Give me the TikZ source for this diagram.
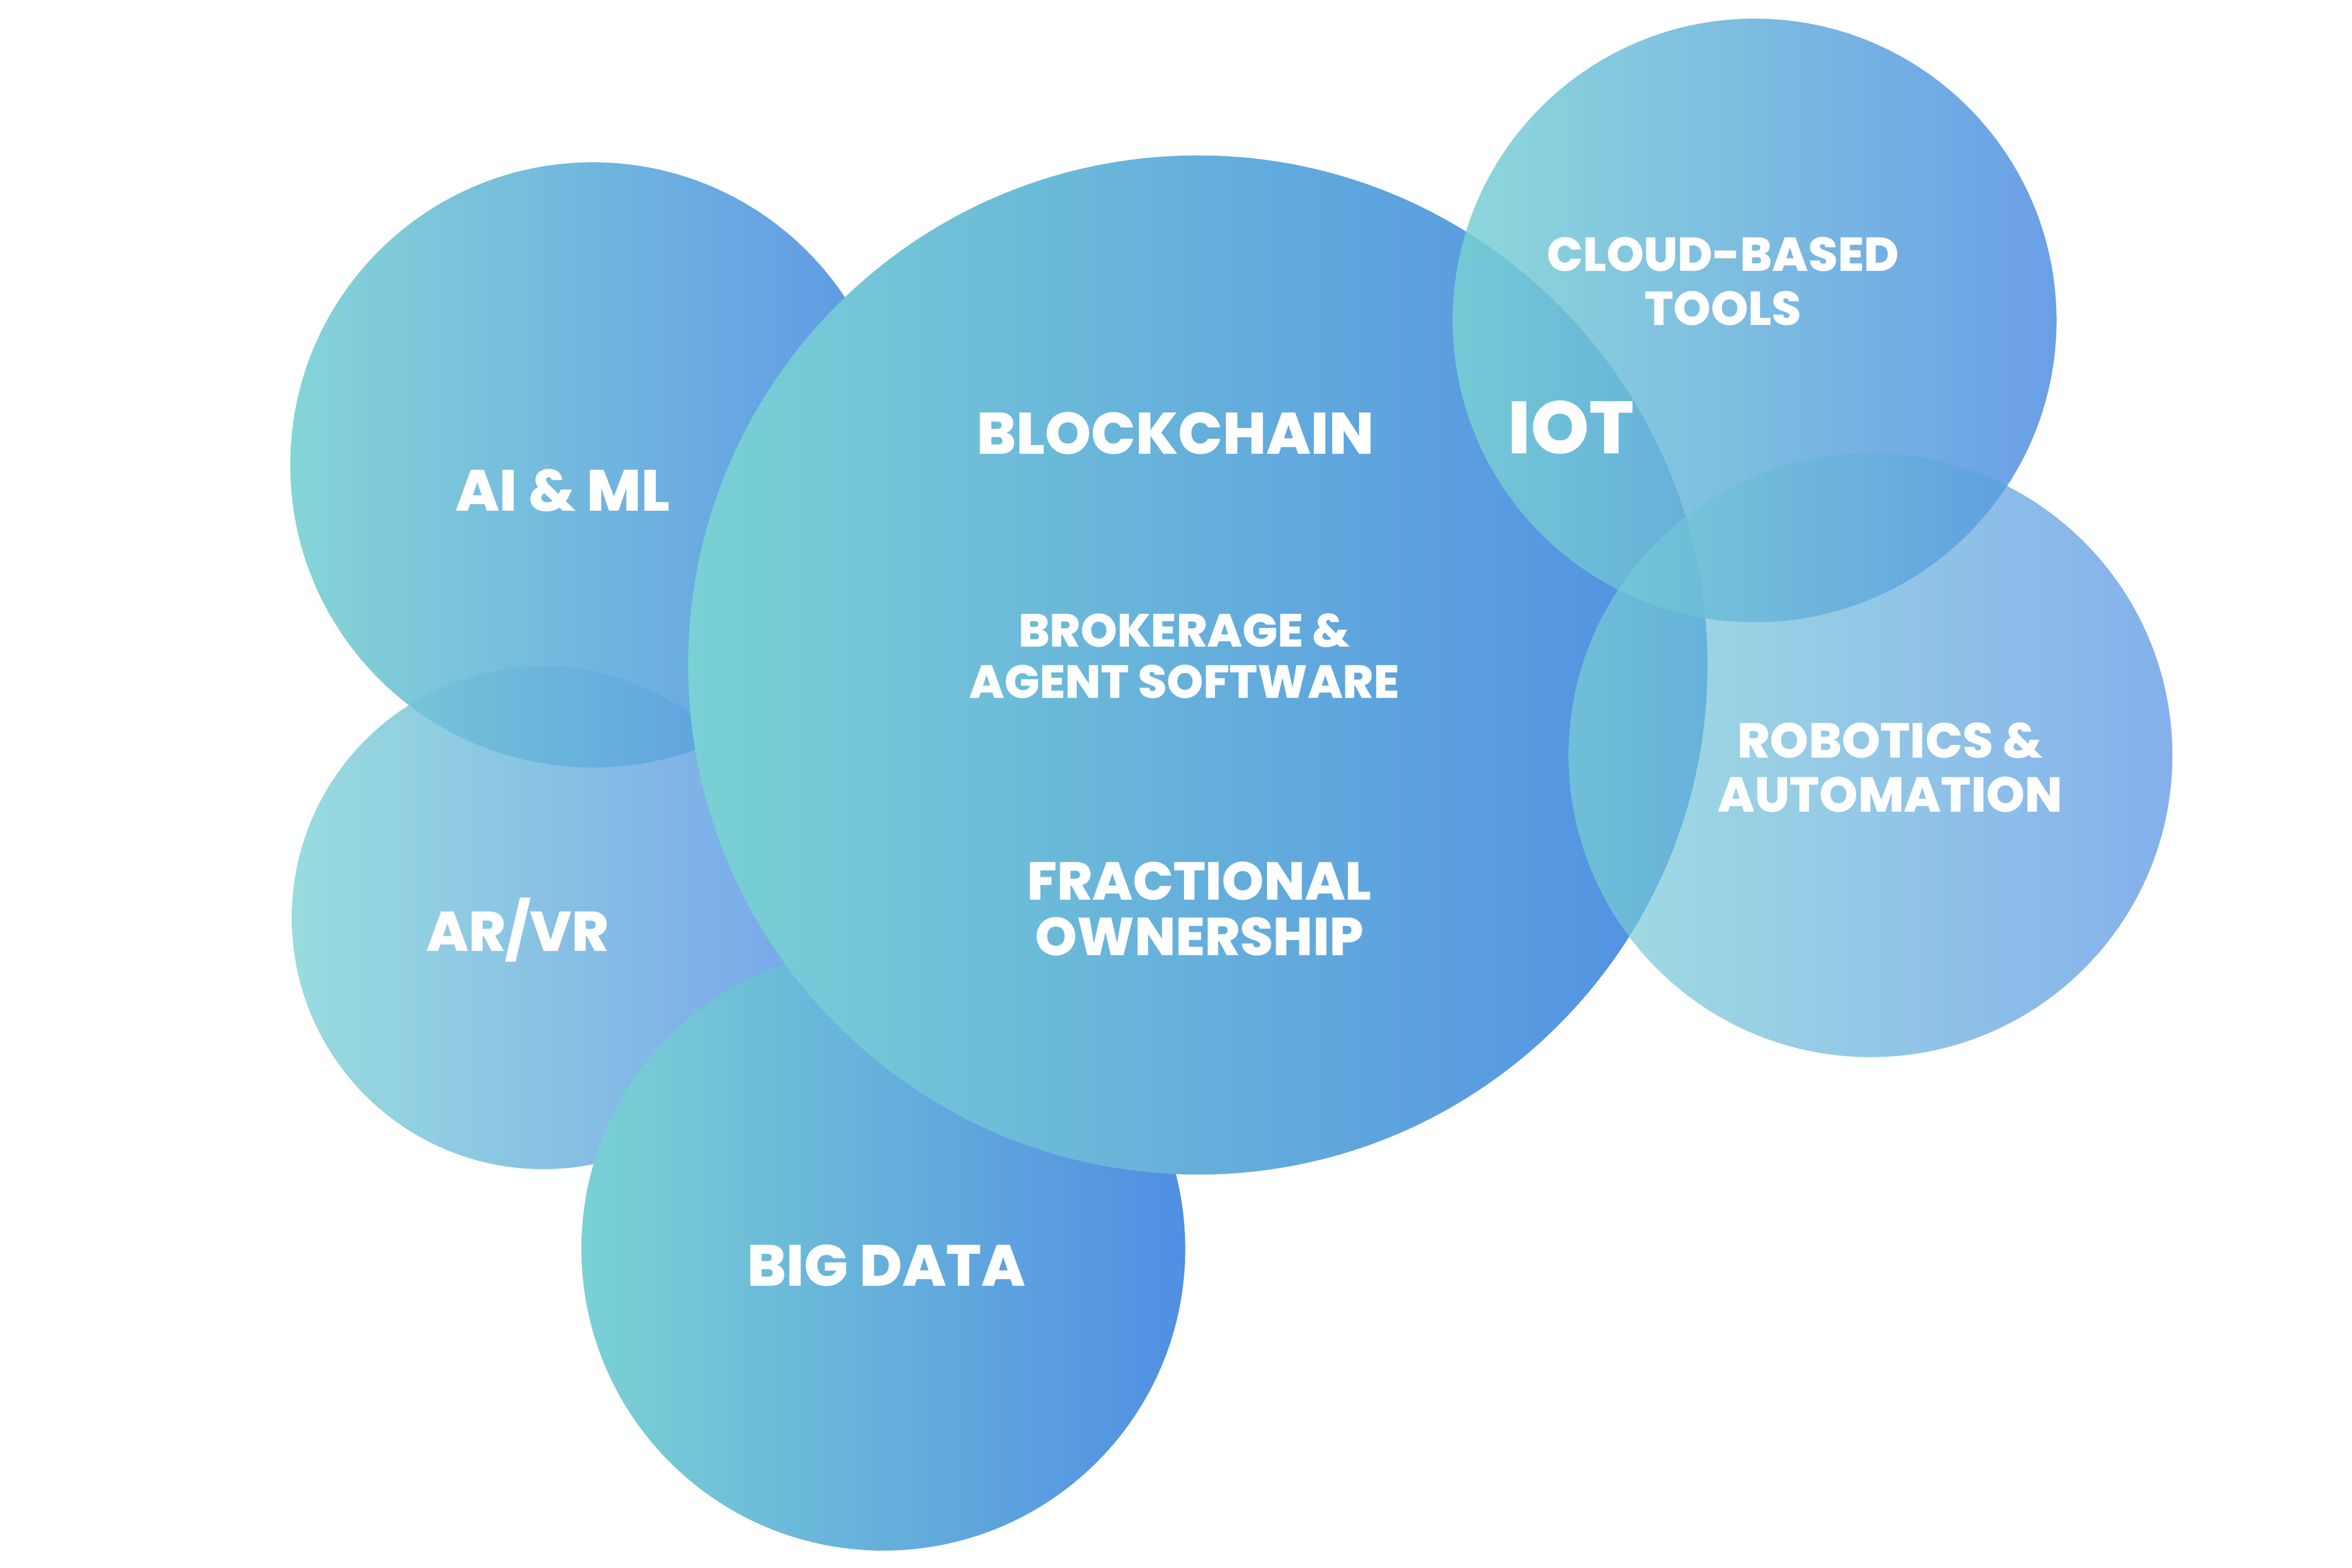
\documentclass[tikz,border=0pt]{standalone}
\usepackage{fontspec}
\newfontfamily\pop{Poppins ExtraBold}
\definecolor{tealc}{HTML}{7AD1D4}
\definecolor{bluec}{HTML}{508EE3}
\tikzset{
  bubble/.style={circle, draw=none, inner sep=0pt, outer sep=0pt, left color=tealc, right color=bluec},
  lbl/.style={text=white, align=center, inner sep=0pt, font=\pop}
}
\begin{document}
\begin{tikzpicture}[x=0.01cm, y=-0.01cm]
\useasboundingbox (0,0) rectangle (1563,1042);
% circles
\node[bubble, minimum size=3.34cm, fill opacity=0.77] (arvr) at (361,610) {};
\node[bubble, minimum size=4.02cm, fill opacity=0.92] (aiml) at (394,309) {};
\node[bubble, minimum size=4.01cm] (bigdata) at (587,830) {};
\node[bubble, minimum size=6.77cm] (main) at (796,442) {};
\node[bubble, minimum size=4.01cm, fill opacity=0.85] (cloud) at (1166,213) {};
\node[bubble, minimum size=4.01cm, fill opacity=0.7] (robot) at (1243,502) {};
% labels
\node[lbl, font=\pop\fontsize{11}{13}\selectfont] (taiml) at (374,326) {AI \& ML};
\node[lbl, font=\pop\fontsize{11.1}{13}\selectfont] (tblock) at (781,288) {BLOCKCHAIN};
\node[lbl, font=\pop\fontsize{14}{17}\selectfont] (tiot) at (1044,284) {IOT};
\node[lbl, font=\pop\fontsize{9.0}{10.2}\selectfont] (tcloud) at (1145,187) {CLOUD-BASED\\TOOLS};
\node[lbl, font=\pop\fontsize{8.8}{9.7}\selectfont] (tbroker) at (787,436) {BROKERAGE \&\\AGENT SOFTWARE};
\node[lbl, font=\pop\fontsize{10.1}{10.5}\selectfont] (tfrac) at (797,604) {FRACTIONAL\\OWNERSHIP};
\node[lbl, font=\pop\fontsize{10.6}{12}\selectfont] (tarvr) at (344,618) {AR/VR};
\node[lbl, font=\pop\fontsize{11}{13}\selectfont] (tbig) at (589,841) {BIG DATA};
\node[lbl, font=\pop\fontsize{9.3}{10.2}\selectfont] (trobot) at (1256,510) {ROBOTICS \&\\AUTOMATION};
\end{tikzpicture}
\end{document}
